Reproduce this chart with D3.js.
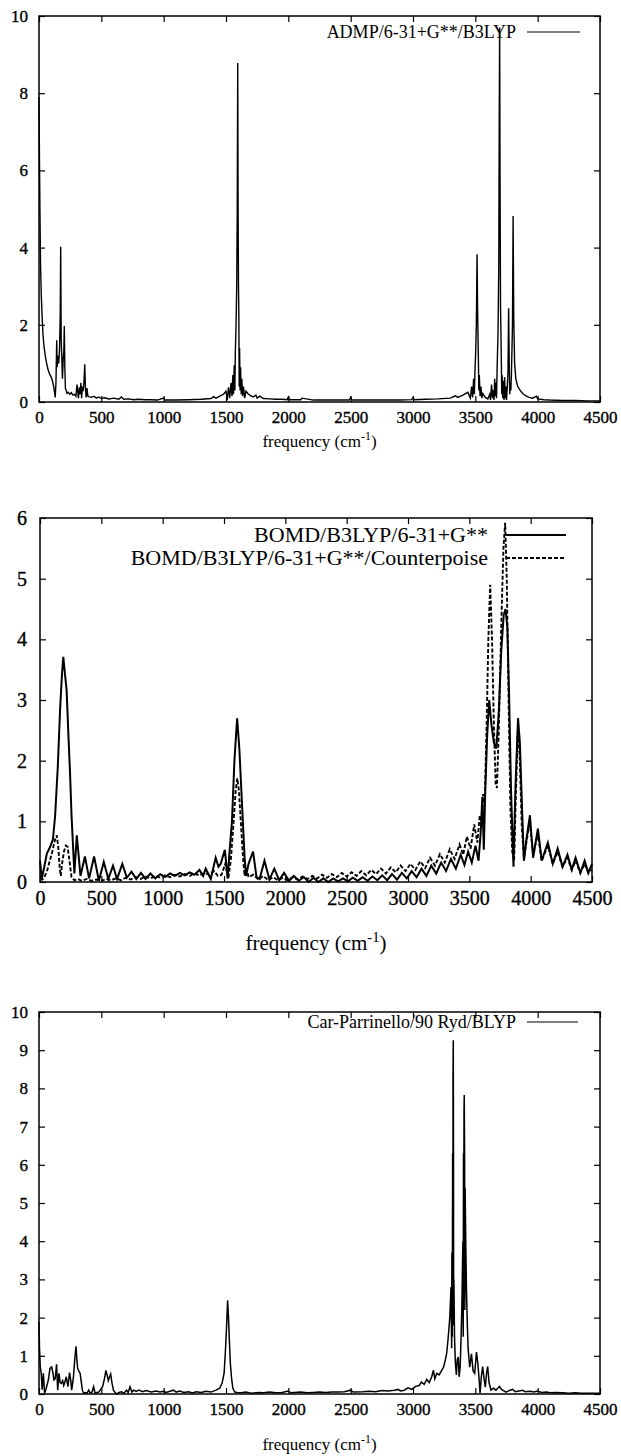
<!DOCTYPE html>
<html>
<head>
<meta charset="utf-8">
<script src="https://cdn.jsdelivr.net/npm/d3@7"></script>
<style>
  body { margin: 0; background: #fff; }
  svg { display: block; }
  text { font-family: "Liberation Serif", "DejaVu Serif", serif; fill: #000; }
</style>
</head>
<body>
<div id="chart"></div>
<script>
// ---- data: [frequency (cm^-1), intensity] ----
var freqTicks = [0, 500, 1000, 1500, 2000, 2500, 3000, 3500, 4000, 4500];

var admpLabel = "ADMP/6-31+G**/B3LYP";
var admpTicks = [0, 2, 4, 6, 8, 10];
var admpSpectrum = [
  [0,7.9],[4,6.2],[8,4.8],[12,3.6],[18,2.8],[25,2.2],[32,1.75],[40,1.45],[50,1.2],[60,1.02],[72,0.85],[85,0.72],
  [96,0.66],[108,0.55],[118,0.4],[126,0.22],[130,0.12],[136,0.5],[142,1.6],[146,0.9],[152,1.2],[158,1.0],[164,1.3],
  [170,2.2],[174,4.02],[178,1.6],[183,1.15],[188,0.6],[194,1.1],[199,1.3],[203,1.97],[207,0.9],[212,0.35],[218,0.3],
  [225,0.22],[235,0.25],[248,0.2],[260,0.24],[272,0.18],[285,0.2],[296,0.15],[305,0.45],[310,0.3],[316,0.1],
  [324,0.38],[330,0.2],[336,0.5],[342,0.1],[348,0.4],[355,0.28],[362,0.6],[367,0.98],[372,0.4],[378,0.12],[385,0.36],
  [392,0.15],[400,0.14],[420,0.12],[440,0.15],[460,0.1],[480,0.13],[500,0.09],[530,0.11],[560,0.08],[600,0.1],
  [640,0.07],[660,0.13],[680,0.07],[720,0.08],[760,0.06],[800,0.07],[850,0.06],[900,0.06],[950,0.05],[1000,0.1],
  [1010,0.05],[1100,0.05],[1200,0.06],[1300,0.07],[1380,0.09],[1400,0.14],[1420,0.1],[1450,0.15],[1480,0.2],
  [1500,0.28],[1510,0.05],[1520,0.38],[1530,0.1],[1540,0.5],[1548,0.15],[1555,0.7],[1560,0.2],[1566,0.95],
  [1571,0.3],[1575,1.3],[1580,1.9],[1586,3.0],[1590,4.8],[1594,8.78],[1597,5.0],[1600,3.08],[1603,2.2],[1606,0.4],
  [1609,1.4],[1613,0.3],[1617,0.9],[1622,0.2],[1627,0.6],[1633,0.15],[1640,0.4],[1650,0.1],[1660,0.28],[1680,0.2],
  [1700,0.16],[1720,0.13],[1740,0.18],[1750,0.1],[1770,0.15],[1800,0.09],[1850,0.08],[1900,0.07],[1950,0.07],
  [1990,0.06],[2000,0.13],[2010,0.06],[2100,0.06],[2110,0.1],[2200,0.05],[2300,0.05],[2400,0.05],[2490,0.05],
  [2500,0.12],[2510,0.05],[2600,0.05],[2700,0.05],[2800,0.05],[2900,0.05],[2990,0.06],[3000,0.12],[3010,0.06],
  [3100,0.07],[3200,0.08],[3300,0.1],[3340,0.16],[3360,0.12],[3400,0.18],[3440,0.25],[3460,0.1],[3470,0.4],
  [3478,0.12],[3486,0.6],[3492,0.2],[3498,0.9],[3503,1.3],[3508,2.0],[3514,3.83],[3518,2.4],[3524,1.2],[3528,0.3],
  [3532,0.7],[3538,0.15],[3545,0.4],[3552,0.1],[3560,0.22],[3580,0.12],[3600,0.08],[3615,0.2],[3622,0.05],
  [3630,0.45],[3638,0.1],[3645,0.3],[3650,0.05],[3655,0.6],[3660,0.15],[3665,0.5],[3670,0.1],[3675,0.9],[3682,1.8],
  [3688,3.5],[3692,7.5],[3695,9.7],[3698,6.0],[3702,2.5],[3708,1.2],[3712,0.2],[3715,0.7],[3720,0.1],[3725,0.55],
  [3730,0.05],[3735,0.65],[3740,0.1],[3745,0.4],[3750,0.05],[3755,0.3],[3762,0.8],[3767,2.43],[3772,1.0],
  [3776,0.2],[3780,0.5],[3785,0.3],[3790,0.8],[3798,2.0],[3803,4.82],[3808,2.2],[3815,1.0],[3825,0.6],[3840,0.4],
  [3860,0.3],[3880,0.22],[3900,0.17],[3930,0.12],[3960,0.1],[3990,0.15],[4000,0.08],[4050,0.06],[4100,0.05],
  [4200,0.04],[4300,0.04],[4400,0.03],[4500,0.03]
];

var bomdLabels = ["BOMD/B3LYP/6-31+G**", "BOMD/B3LYP/6-31+G**/Counterpoise"];
var bomdTicks = [0, 1, 2, 3, 4, 5, 6];
var bomdSpectrum = [
  [0,0.35],[15,0.06],[35,0.25],[56,0.47],[83,0.58],[105,0.7],[123,1.08],[145,1.9],[165,2.9],[180,3.45],[190,3.71],
  [205,3.4],[217,3.16],[232,2.4],[245,1.79],[257,1.1],[267,0.69],[280,0.14],[300,0.77],[330,0.1],[366,0.42],
  [400,0.06],[441,0.42],[480,0.02],[520,0.33],[557,0.05],[595,0.27],[628,0.05],[671,0.3],[708,0.07],[746,0.17],
  [785,0.05],[823,0.15],[860,0.05],[900,0.14],[940,0.06],[980,0.13],[1020,0.08],[1060,0.14],[1100,0.1],
  [1140,0.15],[1180,0.11],[1220,0.16],[1260,0.12],[1300,0.2],[1330,0.1],[1351,0.22],[1392,0.05],[1432,0.4],
  [1455,0.25],[1473,0.3],[1507,0.53],[1530,0.06],[1545,0.5],[1565,1.0],[1585,2.0],[1607,2.7],[1625,2.2],
  [1648,1.24],[1668,0.4],[1680,0.1],[1700,0.3],[1737,0.5],[1765,0.08],[1790,0.05],[1830,0.35],[1870,0.04],
  [1910,0.22],[1950,0.03],[1990,0.15],[2030,0.02],[2070,0.1],[2110,0.02],[2150,0.08],[2190,0.0],[2230,0.07],
  [2270,0.0],[2310,0.06],[2350,0.0],[2390,0.06],[2430,0.01],[2470,0.06],[2510,0.01],[2550,0.07],[2590,0.02],
  [2630,0.08],[2670,0.02],[2710,0.09],[2750,0.03],[2790,0.11],[2830,0.03],[2870,0.13],[2910,0.04],[2950,0.15],
  [2990,0.06],[3030,0.18],[3070,0.08],[3110,0.22],[3150,0.1],[3190,0.27],[3230,0.14],[3270,0.32],[3310,0.18],
  [3350,0.38],[3390,0.22],[3430,0.45],[3460,0.28],[3490,0.5],[3520,0.32],[3550,0.6],[3575,0.35],[3592,0.8],
  [3606,1.4],[3618,0.53],[3630,1.5],[3645,2.4],[3662,3.0],[3680,2.6],[3700,2.3],[3720,2.2],[3740,2.8],[3760,3.8],
  [3780,4.4],[3795,4.5],[3810,4.2],[3825,3.0],[3840,1.5],[3860,0.25],[3875,1.5],[3897,2.7],[3912,2.3],[3930,1.2],
  [3945,0.35],[3965,0.7],[3994,1.1],[4020,0.4],[4059,0.88],[4090,0.35],[4140,0.65],[4180,0.3],[4220,0.55],
  [4260,0.25],[4300,0.45],[4335,0.2],[4366,0.4],[4405,0.15],[4440,0.35],[4470,0.15],[4500,0.3]
];
var bomdCpSpectrum = [
  [0,0.05],[20,0.04],[40,0.1],[60,0.2],[80,0.35],[100,0.5],[120,0.68],[137,0.77],[150,0.55],[162,0.2],[170,0.1],
  [180,0.3],[195,0.5],[210,0.6],[225,0.58],[240,0.35],[257,0.08],[280,0.03],[310,0.05],[340,0.02],[380,0.05],
  [420,0.02],[460,0.04],[500,0.02],[540,0.05],[580,0.03],[620,0.06],[660,0.03],[700,0.07],[740,0.04],[780,0.08],
  [820,0.05],[860,0.09],[900,0.06],[940,0.1],[980,0.07],[1020,0.11],[1060,0.08],[1100,0.12],[1140,0.09],
  [1180,0.13],[1220,0.1],[1260,0.14],[1300,0.11],[1340,0.15],[1380,0.12],[1420,0.18],[1450,0.1],[1480,0.12],
  [1510,0.3],[1535,0.05],[1555,0.35],[1575,0.9],[1595,1.5],[1608,1.71],[1622,1.5],[1640,0.9],[1655,0.4],
  [1668,0.1],[1685,0.22],[1700,0.08],[1740,0.12],[1780,0.04],[1820,0.1],[1860,0.03],[1900,0.08],[1940,0.03],
  [1980,0.07],[2020,0.03],[2060,0.08],[2100,0.04],[2140,0.09],[2180,0.05],[2220,0.1],[2260,0.06],[2300,0.12],
  [2340,0.07],[2380,0.13],[2420,0.08],[2460,0.15],[2500,0.09],[2540,0.16],[2580,0.1],[2620,0.18],[2660,0.11],
  [2700,0.2],[2740,0.13],[2780,0.22],[2820,0.14],[2860,0.24],[2900,0.16],[2940,0.27],[2980,0.18],[3020,0.3],
  [3060,0.2],[3100,0.34],[3140,0.23],[3180,0.4],[3220,0.27],[3260,0.46],[3300,0.32],[3340,0.54],[3380,0.38],
  [3420,0.62],[3450,0.45],[3480,0.75],[3510,0.55],[3540,0.95],[3565,0.65],[3585,1.1],[3600,0.9],[3612,1.45],
  [3625,1.3],[3640,2.5],[3655,4.0],[3670,4.9],[3685,4.0],[3700,2.6],[3715,1.6],[3725,1.55],[3740,2.5],[3760,4.2],
  [3778,5.5],[3792,5.92],[3805,5.0],[3820,3.0],[3835,1.2],[3850,0.5],[3865,0.35],[3880,1.5],[3895,2.5],[3910,2.1],
  [3928,0.9],[3945,0.4],[3965,0.65],[3992,1.0],[4020,0.45],[4058,0.8],[4090,0.35],[4140,0.6],[4180,0.3],
  [4220,0.5],[4260,0.25],[4300,0.4],[4335,0.2],[4366,0.35],[4405,0.15],[4440,0.3],[4470,0.15],[4500,0.2]
];

var cpLabel = "Car-Parrinello/90 Ryd/BLYP";
var cpTicks = [0, 1, 2, 3, 4, 5, 6, 7, 8, 9, 10];
var cpSpectrum = [
  [0,1.9],[4,1.2],[10,0.71],[18,0.54],[25,0.11],[35,0.54],[45,0.02],[58,0.15],[75,0.37],[88,0.67],[101,0.71],
  [112,0.55],[120,0.37],[130,0.4],[141,0.78],[150,0.1],[160,0.54],[170,0.3],[178,0.28],[190,0.35],[198,0.22],
  [205,0.28],[219,0.45],[232,0.19],[245,0.56],[255,0.35],[262,0.1],[275,0.4],[288,0.95],[297,1.25],[304,0.9],
  [310,0.67],[320,0.6],[330,0.54],[340,0.3],[348,0.1],[358,0.02],[370,0.04],[385,0.02],[398,0.1],[410,0.03],
  [425,0.05],[438,0.19],[450,0.02],[465,0.04],[480,0.05],[495,0.12],[511,0.2],[525,0.4],[537,0.62],[546,0.5],
  [556,0.35],[566,0.45],[575,0.52],[585,0.3],[597,0.1],[610,0.04],[623,0.0],[640,0.04],[663,0.06],[680,0.02],
  [703,0.1],[715,0.04],[730,0.19],[745,0.05],[760,0.1],[780,0.07],[800,0.1],[830,0.06],[860,0.09],[900,0.05],
  [940,0.08],[970,0.05],[1000,0.07],[1020,0.04],[1050,0.07],[1080,0.1],[1100,0.05],[1130,0.08],[1160,0.04],
  [1200,0.06],[1230,0.03],[1260,0.06],[1300,0.04],[1340,0.07],[1380,0.05],[1420,0.1],[1450,0.15],[1470,0.3],
  [1485,0.55],[1495,1.1],[1505,1.8],[1513,2.45],[1520,2.0],[1527,1.4],[1535,0.8],[1545,0.4],[1555,0.15],
  [1570,0.05],[1590,0.04],[1620,0.03],[1660,0.05],[1700,0.02],[1760,0.04],[1800,0.03],[1850,0.05],[1900,0.03],
  [1950,0.04],[2000,0.08],[2020,0.03],[2100,0.05],[2150,0.03],[2200,0.04],[2250,0.05],[2300,0.04],[2350,0.05],
  [2400,0.05],[2450,0.06],[2500,0.1],[2520,0.05],[2600,0.06],[2650,0.07],[2700,0.06],[2750,0.09],[2800,0.08],
  [2850,0.1],[2880,0.12],[2900,0.08],[2930,0.1],[2960,0.16],[2990,0.12],[3020,0.2],[3050,0.22],[3066,0.31],
  [3090,0.25],[3110,0.38],[3130,0.3],[3150,0.45],[3164,0.62],[3175,0.4],[3191,0.54],[3210,0.5],[3230,0.62],
  [3245,0.7],[3260,0.9],[3270,1.06],[3283,1.5],[3295,2.0],[3305,2.8],[3310,1.2],[3312,3.7],[3315,1.5],[3318,6.3],
  [3320,2.0],[3321,8.3],[3323,9.26],[3325,6.0],[3326,1.8],[3328,3.0],[3333,1.5],[3340,0.8],[3348,0.5],[3355,0.9],
  [3363,0.97],[3370,0.45],[3378,0.7],[3385,1.4],[3392,2.3],[3400,4.0],[3403,1.5],[3405,6.3],[3407,2.5],[3409,7.4],
  [3411,7.83],[3414,6.1],[3416,2.2],[3418,5.4],[3424,3.8],[3429,2.7],[3436,1.8],[3442,1.2],[3455,0.7],[3469,1.05],
  [3482,0.6],[3495,0.54],[3509,1.1],[3520,0.8],[3530,0.4],[3538,0.02],[3548,0.45],[3559,0.72],[3570,0.4],
  [3580,0.18],[3590,0.55],[3599,0.72],[3610,0.3],[3626,0.1],[3645,0.15],[3666,0.1],[3693,0.2],[3710,0.12],
  [3746,0.05],[3780,0.1],[3800,0.12],[3820,0.06],[3850,0.08],[3880,0.1],[3900,0.06],[3940,0.07],[3970,0.05],
  [4000,0.08],[4030,0.04],[4070,0.05],[4100,0.03],[4150,0.04],[4200,0.03],[4250,0.02],[4300,0.03],[4350,0.02],
  [4400,0.02],[4450,0.02],[4500,0.02]
];

var serif = "'Liberation Serif', 'DejaVu Serif', serif";

var svg = d3.select("#chart").append("svg")
  .attr("width", 621)
  .attr("height", 1456);
svg.append("rect").attr("width", 621).attr("height", 1456).attr("fill", "#fff");

//draws one framed panel, returns the scales
//box = left/right/top/bottom pixel edges of the plot frame
function drawPanel(box, yMax, yTicks, opt) {
  var g = svg.append("g");
  var x = d3.scaleLinear().domain([0, 4500]).range([box.left, box.right]);
  var y = d3.scaleLinear().domain([0, yMax]).range([box.bottom, box.top]);
  var fmt = d3.format("d");

  //axes with inward ticks, mirrored on top and right
  var bottom = g.append("g").attr("transform", "translate(0," + box.bottom + ")")
    .call(d3.axisBottom(x).tickValues(freqTicks).tickFormat(fmt).tickSizeInner(-6).tickSizeOuter(0).tickPadding(opt.xPad));
  var top = g.append("g").attr("transform", "translate(0," + box.top + ")")
    .call(d3.axisTop(x).tickValues(freqTicks).tickSizeInner(-6).tickSizeOuter(0).tickFormat(""));
  var left = g.append("g").attr("transform", "translate(" + box.left + ",0)")
    .call(d3.axisLeft(y).tickValues(yTicks).tickFormat(fmt).tickSizeInner(-6).tickSizeOuter(0).tickPadding(opt.yPad));
  var right = g.append("g").attr("transform", "translate(" + box.right + ",0)")
    .call(d3.axisRight(y).tickValues(yTicks).tickSizeInner(-6).tickSizeOuter(0).tickFormat(""));

  [bottom, top, left, right].forEach(function(a) {
    a.attr("font-family", null).attr("font-size", null);
    a.select(".domain").remove();
    a.selectAll("line").attr("stroke", "#000").attr("stroke-width", 1.2);
    a.selectAll("text")
      .style("font-family", serif)
      .style("font-size", opt.tickFont + "px")
      .attr("fill", "#000")
      .attr("stroke", "#000")
      .attr("stroke-width", 0.35);
  });

  //frame
  g.append("rect")
    .attr("x", box.left).attr("y", box.top)
    .attr("width", box.right - box.left).attr("height", box.bottom - box.top)
    .attr("fill", "none").attr("stroke", "#000").attr("stroke-width", 1.5);

  //x axis title with superscript
  var t = g.append("text")
    .attr("x", (box.left + box.right) / 2)
    .attr("y", opt.titleY)
    .attr("text-anchor", "middle")
    .style("font-family", serif)
    .style("font-size", opt.titleFont + "px");
  t.append("tspan").text("frequency (cm");
  t.append("tspan").attr("dy", -opt.titleFont * 0.4).style("font-size", (opt.titleFont * 0.7) + "px").text("-1");
  t.append("tspan").attr("dy", opt.titleFont * 0.4).text(")");

  return {g: g, x: x, y: y};
}

function drawLine(p, data, width, dash) {
  var line = d3.line()
    .x(function(d) { return p.x(d[0]); })
    .y(function(d) { return p.y(Math.min(d[1], p.y.domain()[1])); });
  var path = p.g.append("path")
    .datum(data)
    .attr("d", line)
    .attr("fill", "none")
    .attr("stroke", "#000")
    .attr("stroke-width", width)
    .attr("stroke-linejoin", "miter");
  if (dash) path.attr("stroke-dasharray", dash);
}

function drawKey(p, label, textX, lineX1, lineX2, yc, font, width, dash) {
  p.g.append("text")
    .attr("x", textX).attr("y", yc)
    .attr("dy", "0.33em")
    .attr("text-anchor", "end")
    .style("font-family", serif)
    .style("font-size", font + "px")
    .text(label);
  var l = p.g.append("line")
    .attr("x1", lineX1).attr("x2", lineX2)
    .attr("y1", yc).attr("y2", yc)
    .attr("stroke", "#000").attr("stroke-width", width);
  if (dash) l.attr("stroke-dasharray", dash);
}

//panel 1: ADMP
var p1 = drawPanel({left: 39, right: 600, top: 16, bottom: 402}, 10, admpTicks,
  {xPad: 9, yPad: 11, tickFont: 17, titleFont: 17, titleY: 447});
drawLine(p1, admpSpectrum, 1.4);
drawKey(p1, admpLabel, 516, 527, 580, 32, 18, 1.1);

//panel 2: BOMD
var p2 = drawPanel({left: 40, right: 592, top: 518, bottom: 882}, 6, bomdTicks,
  {xPad: 9, yPad: 13, tickFont: 20, titleFont: 21, titleY: 950});
drawLine(p2, bomdSpectrum, 2);
drawLine(p2, bomdCpSpectrum, 1.9, "4,2");
drawKey(p2, bomdLabels[0], 488, 506, 566, 535, 22, 2);
drawKey(p2, bomdLabels[1], 488, 506, 566, 558, 22, 1.9, "4,2");

//panel 3: Car-Parrinello
var p3 = drawPanel({left: 39, right: 600, top: 1012, bottom: 1394}, 10, cpTicks,
  {xPad: 9, yPad: 11, tickFont: 17, titleFont: 17, titleY: 1450});
drawLine(p3, cpSpectrum, 1.5);
drawKey(p3, cpLabel, 516, 527, 578, 1022, 18, 1.1);
</script>
</body>
</html>
